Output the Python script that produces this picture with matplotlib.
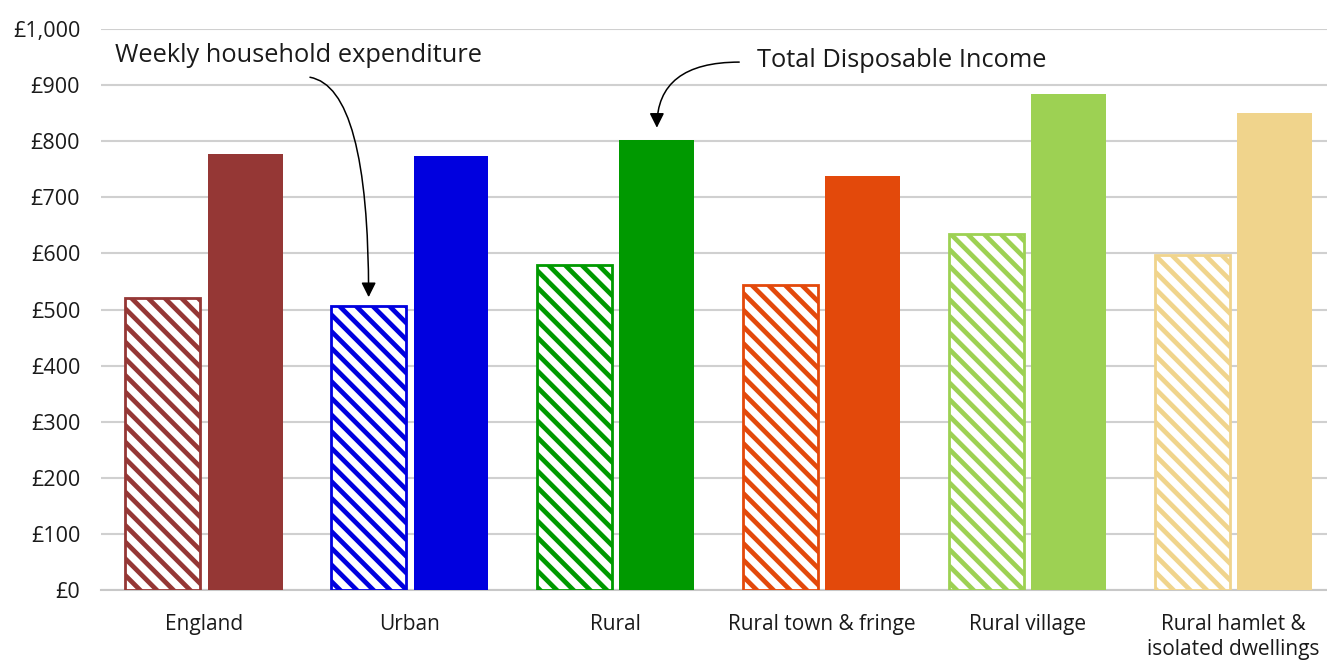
import matplotlib
matplotlib.use("Agg")
import matplotlib.pyplot as plt
import numpy as np

categories = ["England", "Urban", "Rural", "Rural town & fringe", "Rural village",
              "Rural hamlet &\nisolated dwellings"]
expenditure = [520, 506, 580, 543, 634, 597]
income = [777, 773, 802, 738, 885, 850]
colors = ["#953735", "#0000DF", "#009900", "#E3490B", "#9DD153", "#F0D48C"]
yticks = [0, 100, 200, 300, 400, 500, 600, 700, 800, 900, 1000]
ytick_labels = ["£0", "£100", "£200", "£300", "£400", "£500", "£600", "£700", "£800", "£900", "£1,000"]

plt.rcParams['font.family'] = ['Open Sans', 'DejaVu Sans']
plt.rcParams['hatch.linewidth'] = 3.4

W, H = 1327, 660
fig = plt.figure(figsize=(W / 100, H / 100), dpi=100)
left, right, bottom, top = 101, 1327, 590, 29
ax = fig.add_axes([left / W, (H - bottom) / H, (right - left) / W, (bottom - top) / H])

x = np.arange(len(categories))
bw = 0.364
off = 0.2
for i in range(len(categories)):
    ax.bar(x[i] - off, expenditure[i], bw, facecolor="white", edgecolor=colors[i],
           hatch="\\\\", linewidth=2, zorder=3)
    ax.bar(x[i] + off, income[i], bw, color=colors[i], linewidth=0, zorder=3)

ax.set_xlim(-0.5, 5.455)
ax.set_ylim(0, 1000)
ax.set_yticks(yticks)
ax.set_yticklabels(ytick_labels)
ax.set_xticks(x)
ax.set_xticklabels(categories)
ax.tick_params(axis="both", length=0, colors="#1a1a1a")
ax.tick_params(axis="y", labelsize=15.5, pad=15)
ax.tick_params(axis="x", labelsize=15, pad=17)
for lab in ax.get_xticklabels():
    lab.set_verticalalignment("top")
    lab.set_linespacing(1.3)
ax.grid(axis="y", color="#d0d0d0", linewidth=1.5, zorder=0)
ax.set_axisbelow(True)
for s in ["top", "right", "left"]:
    ax.spines[s].set_visible(False)
ax.spines["bottom"].set_color("#c8c8c8")
ax.spines["bottom"].set_linewidth(1.5)

# annotations
ax.text(-0.432, 952, "Weekly household expenditure", fontsize=18.3, color="#1a1a1a",
        va="center", ha="left")
ax.annotate("", xy=(0.8, 522), xytext=(0.515, 914),
            arrowprops=dict(arrowstyle="-|>", color="black", lw=1.1,
                            connectionstyle="angle3,angleA=-10,angleB=90",
                            mutation_scale=22, shrinkA=0, shrinkB=0))
ax.text(2.684, 944, "Total Disposable Income", fontsize=18.3, color="#1a1a1a",
        va="center", ha="left")
ax.annotate("", xy=(2.2, 824), xytext=(2.60, 941),
            arrowprops=dict(arrowstyle="-|>", color="black", lw=1.1,
                            connectionstyle="angle3,angleA=0,angleB=90",
                            mutation_scale=22, shrinkA=0, shrinkB=0))

fig.savefig("out.png", dpi=100)
